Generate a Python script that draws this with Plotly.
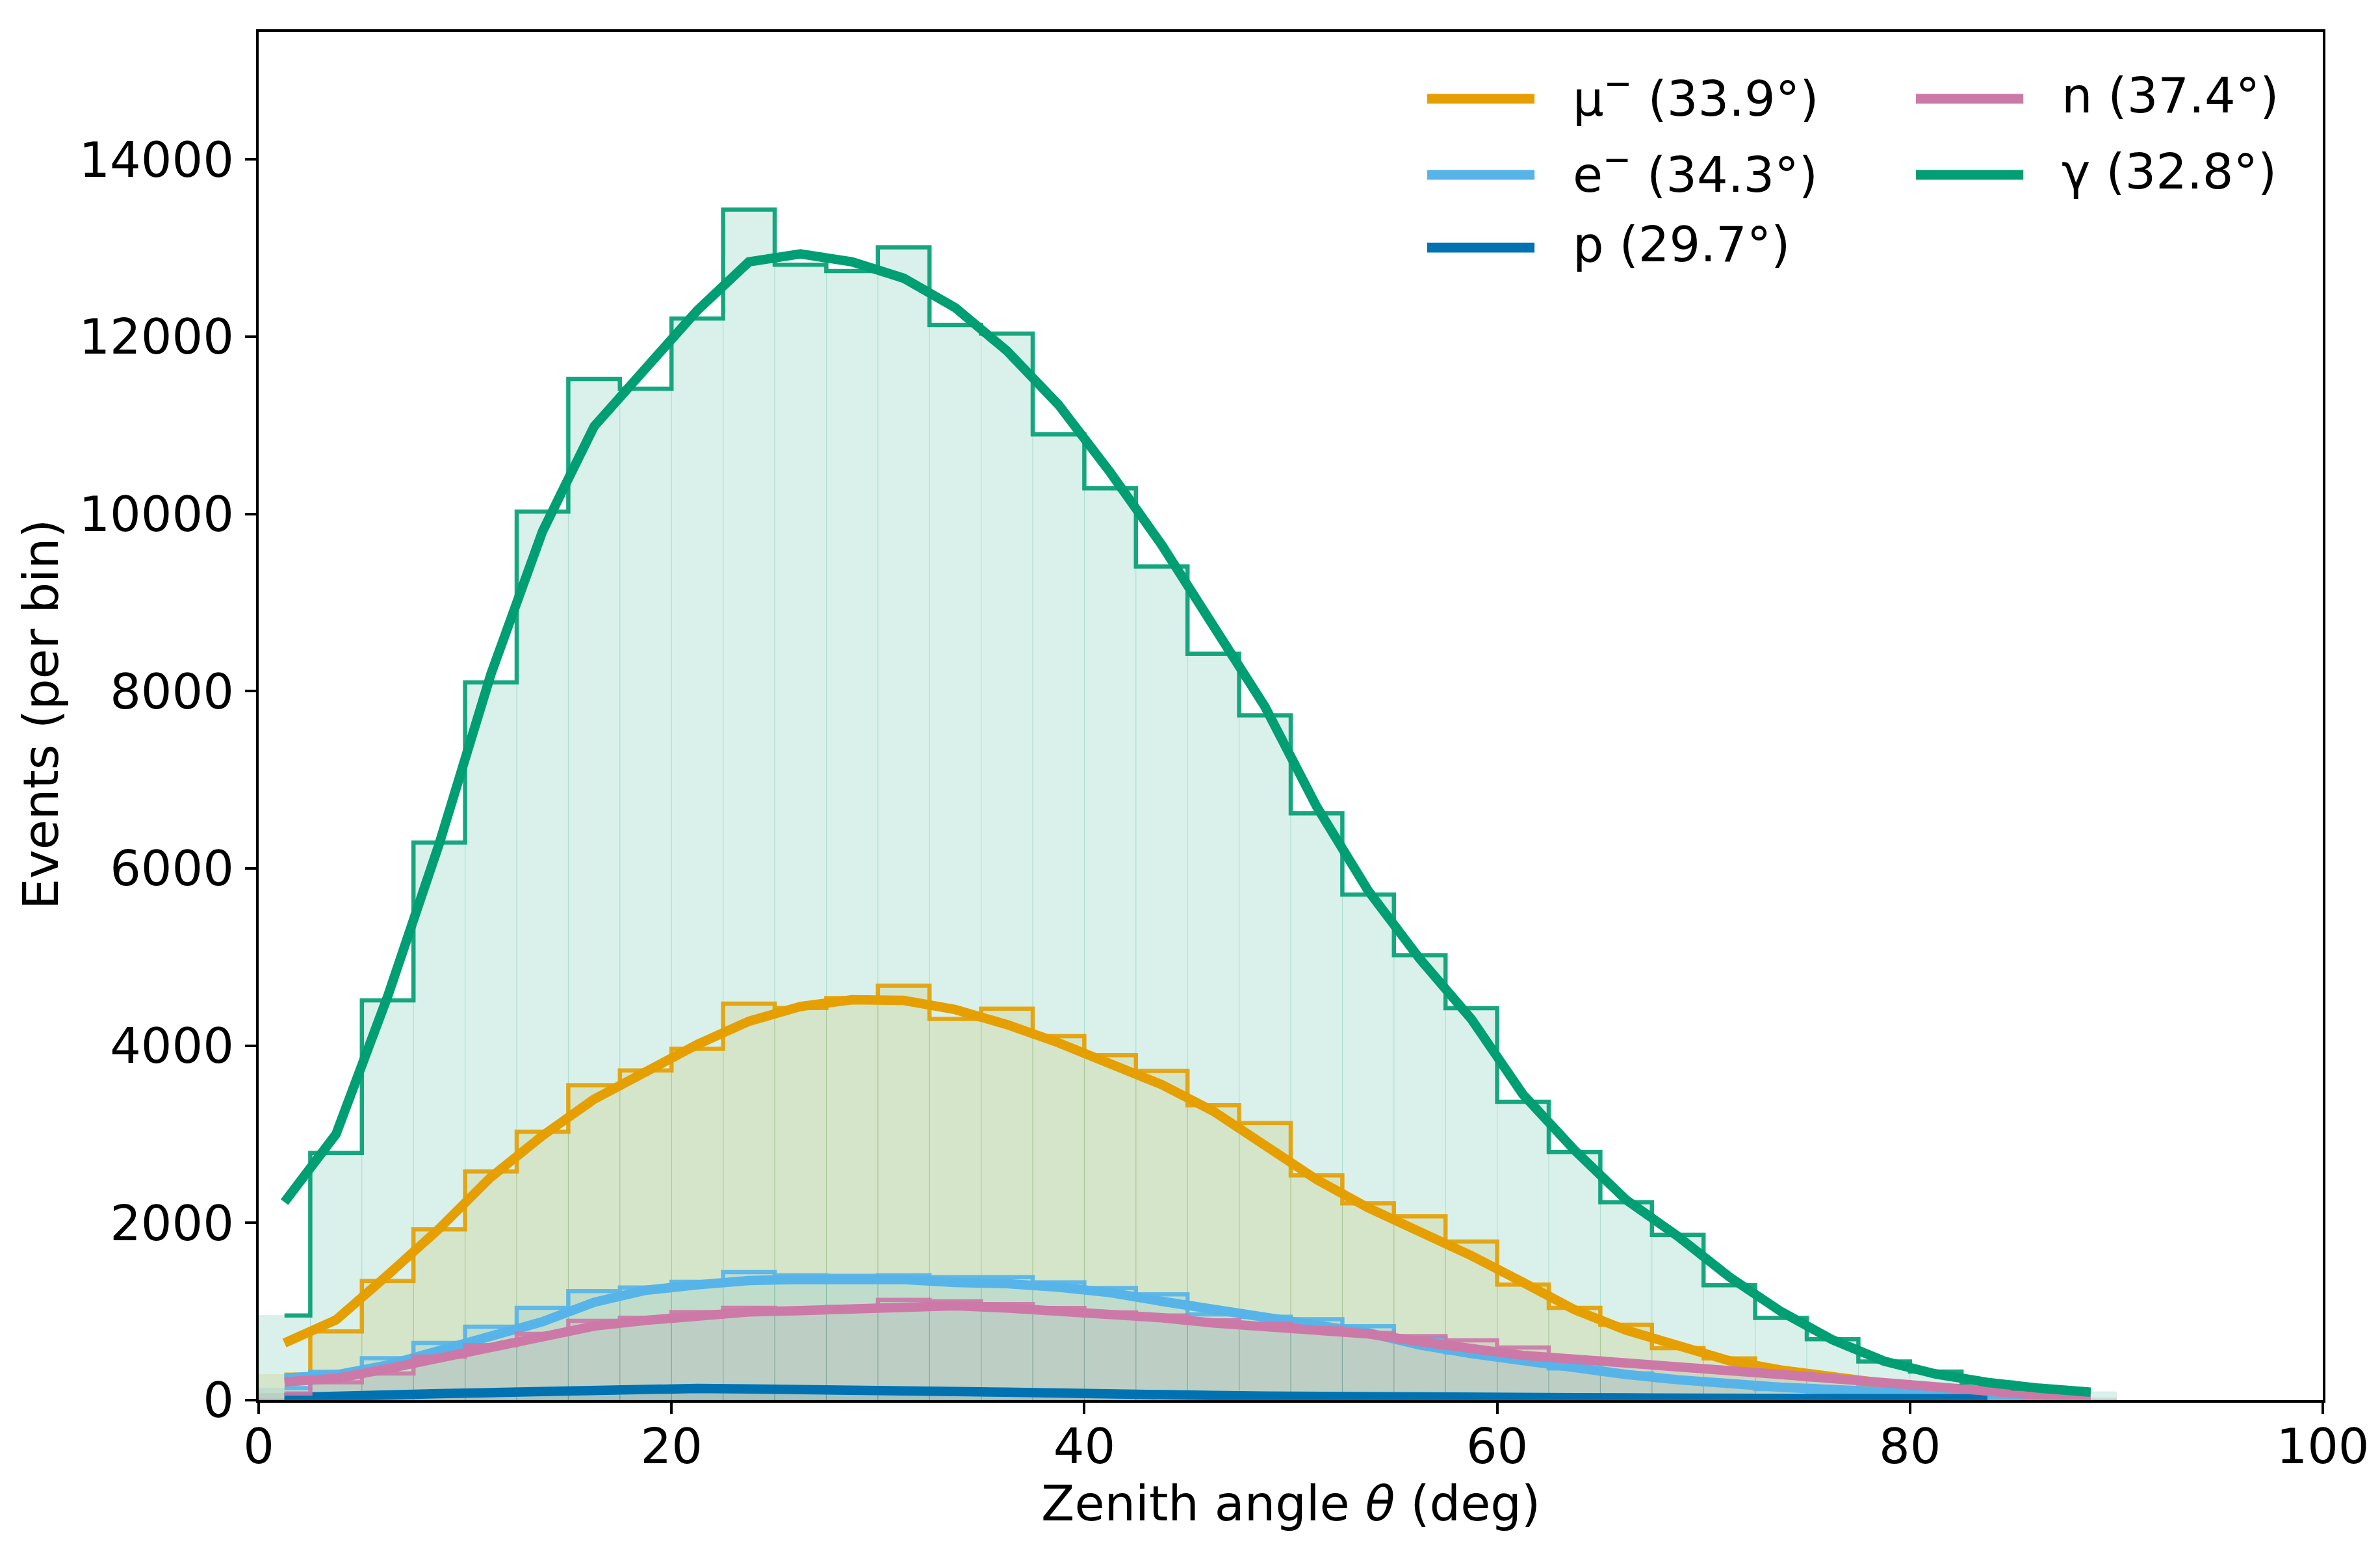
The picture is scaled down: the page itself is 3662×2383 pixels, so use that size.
import plotly.graph_objects as go

# bin centres (2.5 deg bins from 0 to 90)
theta_centers = [1.25, 3.75, 6.25, 8.75, 11.25, 13.75, 16.25, 18.75, 21.25, 23.75,
                 26.25, 28.75, 31.25, 33.75, 36.25, 38.75, 41.25, 43.75, 46.25, 48.75,
                 51.25, 53.75, 56.25, 58.75, 61.25, 63.75, 66.25, 68.75, 71.25, 73.75,
                 76.25, 78.75, 81.25, 83.75, 86.25, 88.75]

x_ticks = [0, 20, 40, 60, 80, 100]
y_ticks = [0, 2000, 4000, 6000, 8000, 10000, 12000, 14000]

# histogram counts per bin
mu_counts = [288, 775, 1344, 1928, 2580, 3029, 3553, 3721, 3964, 4474, 4425, 4537,
             4676, 4302, 4418, 4107, 3893, 3715, 3329, 3126, 2536, 2220, 2074, 1790,
             1303, 1041, 851, 586, 472, 320, 235, 170, 110, 70, 35, 12]
e_counts = [136, 320, 474, 645, 829, 1041, 1230, 1270, 1335, 1445, 1408, 1403,
            1408, 1389, 1389, 1330, 1266, 1193, 968, 940, 914, 834, 700, 540,
            467, 357, 300, 240, 180, 124, 100, 75, 50, 30, 15, 0]
p_counts = [15, 38, 52, 70, 88, 100, 115, 125, 135, 130, 118, 108,
            103, 98, 92, 88, 80, 64, 55, 46, 40, 38, 35, 30,
            27, 25, 22, 20, 18, 17, 16, 15, 14, 13, None, None]
n_counts = [75, 202, 300, 491, 621, 748, 895, 930, 993, 1041, 1030, 1050,
            1132, 1115, 1083, 1040, 990, 956, 900, 860, 810, 760, 723, 674,
            594, 470, 420, 380, 330, 290, 245, 200, 140, 95, 55, 25]
gamma_counts = [955, 2789, 4511, 6292, 8099, 10027, 11524, 11414, 12205, 13434, 12813, 12740,
                13008, 12132, 12035, 10897, 10289, 9407, 8422, 7728, 6621, 5705, 5021, 4423,
                3366, 2801, 2233, 1865, 1296, 927, 688, 436, 322, 198, 130, 95]

# smoothed curves at the bin centres
mu_smooth = [644, 906, 1412, 1936, 2516, 2984, 3396, 3695, 4013, 4275, 4443, 4518,
             4511, 4407, 4238, 4033, 3790, 3560, 3260, 2870, 2490, 2170, 1910, 1630,
             1330, 1020, 790, 610, 445, 340, 260, 190, 130, 80, 40, 15]
e_smooth = [249, 286, 396, 555, 714, 885, 1105, 1240, 1301, 1350, 1362, 1374,
            1360, 1327, 1315, 1274, 1213, 1115, 1017, 931, 846, 760, 623, 525,
            440, 360, 290, 230, 180, 145, 120, 95, 70, 45, 15, None]
p_smooth = [29, 36, 53, 73, 85, 102, 114, 127, 132, 127, 114, 106,
            102, 97, 90, 87, 80, 63, 53, 46, 39, 39, 36, 29,
            28, 27, 25, 20, 19, 18, 17, 16, 15, 14, None, None]
n_smooth = [205, 245, 355, 480, 610, 735, 835, 900, 955, 995, 1010, 1035,
            1060, 1065, 1040, 1007, 980, 930, 870, 834, 797, 748, 660, 585,
            505, 462, 413, 376, 332, 290, 244, 195, 137, 95, 56, 24]
gamma_smooth = [2235, 3003, 4556, 6280, 8191, 9803, 10988, 11658, 12297, 12844, 12935, 12844,
                12660, 12327, 11840, 11232, 10471, 9650, 8738, 7826, 6700, 5750, 4980, 4300,
                3450, 2820, 2260, 1850, 1390, 1000, 680, 440, 295, 200, 135, 90]

labels = ["μ<sup>−</sup> (33.9°)", "e<sup>−</sup> (34.3°)", "p (29.7°)", "n (37.4°)", "γ (32.8°)"]
colors = ["#E69F00", "#56B4E9", "#0072B2", "#CC79A7", "#009E73"]
all_counts = [mu_counts, e_counts, p_counts, n_counts, gamma_counts]
all_smooth = [mu_smooth, e_smooth, p_smooth, n_smooth, gamma_smooth]


def rgba(hex_color, alpha):
    h = hex_color.lstrip("#")
    r, g, b = int(h[0:2], 16), int(h[2:4], 16), int(h[4:6], 16)
    return "rgba({},{},{},{})".format(r, g, b, alpha)


FONT = "DejaVu Sans"
fig = go.Figure()

# light filled bars underneath everything
for counts, color in zip(all_counts, colors):
    fig.add_trace(go.Bar(x=theta_centers, y=counts, width=2.5,
                         marker=dict(color=rgba(color, 0.15),
                                     line=dict(color=rgba(color, 0.12), width=1)),
                         showlegend=False, hoverinfo="skip"))

# step outline + smooth curve per species
for counts, smooth, color, label in zip(all_counts, all_smooth, colors, labels):
    fig.add_trace(go.Scatter(x=theta_centers, y=counts, mode="lines",
                             line=dict(color=color, width=6.5, shape="hvh"),
                             opacity=0.9, showlegend=False))
    fig.add_trace(go.Scatter(x=theta_centers, y=smooth, mode="lines",
                             line=dict(color=color, width=14.5),
                             name=label, showlegend=False))

# legend drawn by hand (two columns, long handles)
legend_cols = [0.5661, 0.5661, 0.5661, 0.8029, 0.8029]
legend_rows = [0.9511, 0.8955, 0.8423, 0.9511, 0.8955]
for label, color, lx, ly in zip(labels, colors, legend_cols, legend_rows):
    fig.add_shape(type="line", xref="paper", yref="paper",
                  x0=lx, x1=lx + 0.052, y0=ly, y1=ly,
                  line=dict(color=color, width=15))
    fig.add_annotation(xref="paper", yref="paper", x=lx + 0.07, y=ly + 0.0024,
                       text=label, showarrow=False, xanchor="left", yanchor="middle",
                       font=dict(family=FONT, size=75, color="black"))

# axis titles placed as text next to the tick labels
fig.add_annotation(xref="paper", yref="paper", x=0.5, y=-0.0753,
                   text="Zenith angle <i>θ</i> (deg)", showarrow=False,
                   xanchor="center", yanchor="middle",
                   font=dict(family=FONT, size=75, color="black"))
fig.add_annotation(xref="paper", yref="paper", x=-0.1055, y=0.5016,
                   text="Events (per bin)", showarrow=False, textangle=-90,
                   xanchor="center", yanchor="middle",
                   font=dict(family=FONT, size=75, color="black"))

# page body has an 8px margin, so the figure is 16px smaller than the window
fig.update_layout(
    width=3646, height=2367,
    margin=dict(l=390, r=80, t=41, b=221),
    plot_bgcolor="white", paper_bgcolor="white",
    barmode="overlay",
    font=dict(family=FONT, size=75, color="black"),
)
fig.update_xaxes(range=[0, 100], tickvals=x_ticks, ticks="outside", ticklen=17, tickwidth=4,
                 tickcolor="black", showline=True, linewidth=4, linecolor="black", mirror=True,
                 showgrid=False, zeroline=False, ticklabelstandoff=-14,
                 tickfont=dict(family=FONT, size=75),
                 automargin=False)
fig.update_yaxes(range=[0, 15440], tickvals=y_ticks, tickformat="d",
                 ticks="outside", ticklen=17, tickwidth=4,
                 tickcolor="black", showline=True, linewidth=4, linecolor="black", mirror=True,
                 showgrid=False, zeroline=False, ticklabelstandoff=2,
                 tickfont=dict(family=FONT, size=75),
                 automargin=False)

fig.write_html("out.html")
